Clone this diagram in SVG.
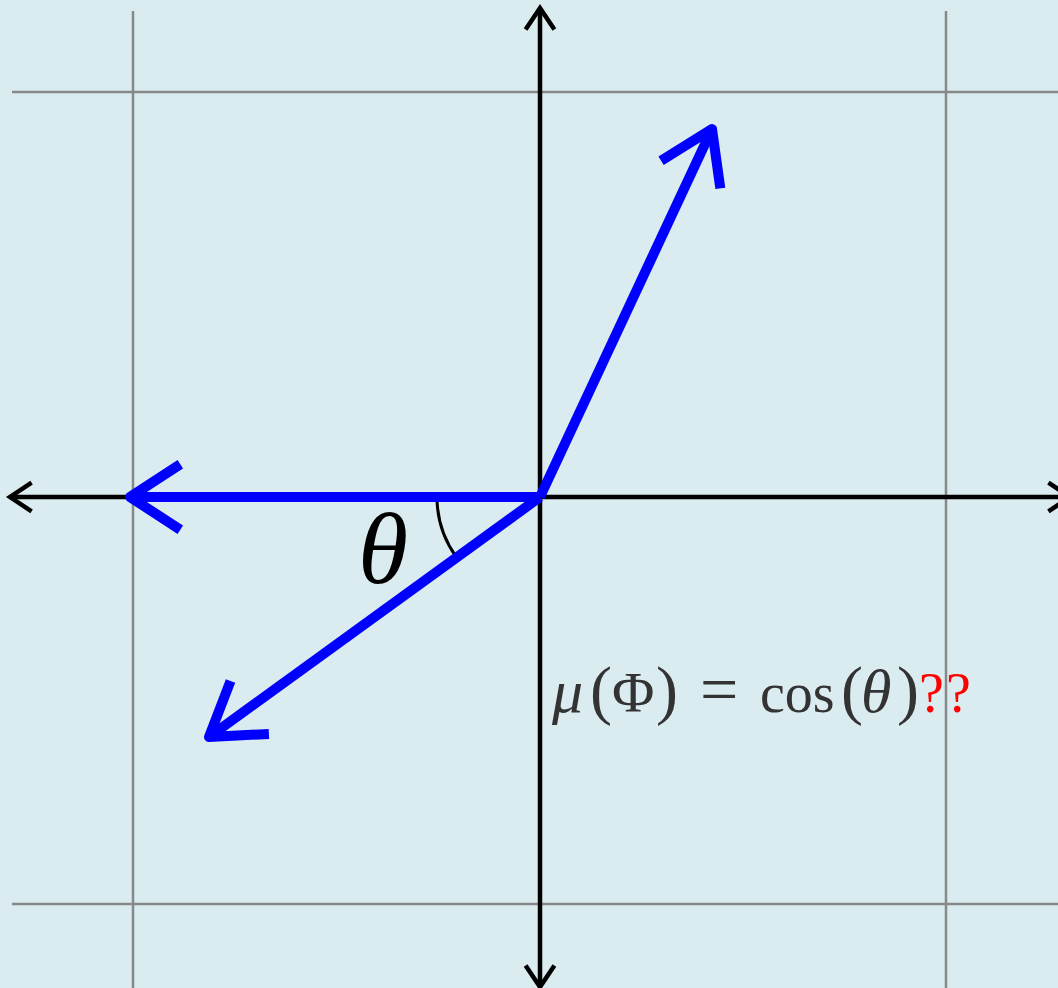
<svg xmlns="http://www.w3.org/2000/svg" width="1058" height="988" viewBox="0 0 1058 988">
  <style>
    .grid { stroke: #888888; stroke-width: 2.5; fill: none; }
    .axis { stroke: #000000; stroke-width: 4.5; fill: none; }
    .vec { stroke: #0000ff; stroke-width: 10; fill: none; stroke-linejoin: round; }
    .arc { stroke: #000000; stroke-width: 3; fill: none; }
    .math { font-family: "Liberation Serif", "DejaVu Serif", serif; fill: #333333; }
    .it { font-style: italic; }
    .red { fill: #ff0000; }
  </style>
  <defs>
    <marker id="axisHead" markerUnits="strokeWidth" markerWidth="12" markerHeight="12" refX="0" refY="0" orient="auto-start-reverse" overflow="visible">
      <path d="M-4.8,-3.2 L0,0 L-4.8,3.2" fill="none" stroke="#000000" stroke-width="1" stroke-linejoin="miter"/>
    </marker>
    <marker id="vecHead" markerUnits="strokeWidth" markerWidth="12" markerHeight="12" refX="0" refY="0" orient="auto" overflow="visible">
      <path d="M-5.03,-3.27 L0,0 L-5.03,3.27" fill="none" stroke="#0000ff" stroke-width="1" stroke-linejoin="round"/>
    </marker>
  </defs>

  <rect id="background" x="0" y="0" width="1058" height="988" fill="#dbecf1"/>

  <g id="grid">
    <line class="grid" x1="133" y1="11" x2="133" y2="988"/>
    <line class="grid" x1="946" y1="11" x2="946" y2="988"/>
    <line class="grid" x1="12" y1="92" x2="1058" y2="92"/>
    <line class="grid" x1="12" y1="904" x2="1058" y2="904"/>
  </g>

  <g id="axes">
    <line class="axis" x1="10" y1="497" x2="1070" y2="497" marker-start="url(#axisHead)" marker-end="url(#axisHead)"/>
    <line class="axis" x1="540" y1="8" x2="540" y2="987" marker-start="url(#axisHead)" marker-end="url(#axisHead)"/>
  </g>

  <g id="angle-arc">
    <path class="arc" d="M437,497 A103,103 0 0 0 456.5,557.3"/>
  </g>

  <g id="connectors">
    <line id="vec-left" class="vec" x1="540" y1="497" x2="130" y2="497" marker-end="url(#vecHead)"/>
    <line id="vec-upright" class="vec" x1="540" y1="497" x2="712" y2="129" marker-end="url(#vecHead)"/>
    <line id="vec-downleft" class="vec" x1="540" y1="497" x2="209" y2="737" marker-end="url(#vecHead)"/>
  </g>

  <g id="theta-label">
    <text class="math it" x="383" y="583" font-size="102" text-anchor="middle" style="fill:#000000">θ</text>
  </g>

  <g id="formula">
    <text class="math" y="712" font-size="56">
      <tspan class="it" x="552" font-size="62">μ</tspan>
      <tspan x="590" font-size="66">(</tspan>
      <tspan x="612" font-size="58">Φ</tspan>
      <tspan x="656" font-size="66">)</tspan>
      <tspan x="700" font-size="68">=</tspan>
      <tspan x="760">cos</tspan>
      <tspan x="841" font-size="66">(</tspan>
      <tspan class="it" x="861" font-size="62">θ</tspan>
      <tspan x="897" font-size="66">)</tspan>
      <tspan class="red" x="919">?</tspan>
      <tspan class="red" x="946">?</tspan>
    </text>
  </g>
</svg>
